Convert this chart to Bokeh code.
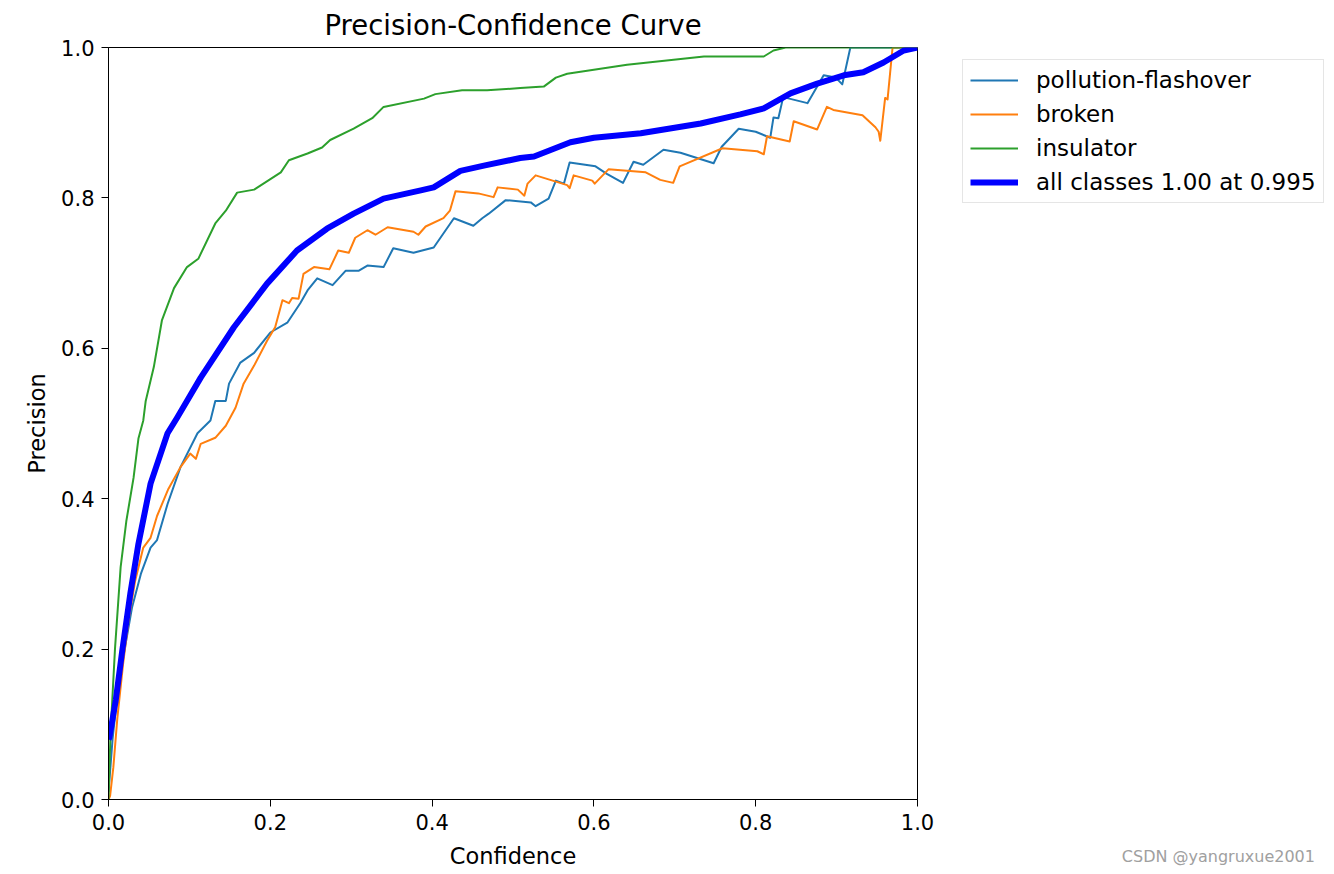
from bokeh.plotting import figure
from bokeh.layouts import row
from bokeh.models import Range1d, FixedTicker, PrintfTickFormatter, Legend, LegendItem
from bokeh.embed import file_html
from bokeh.resources import INLINE

# ---- data ----
pf_conf = [0.0, 0.005, 0.012, 0.02, 0.029, 0.04, 0.052, 0.06, 0.073, 0.089, 0.11, 0.126, 0.132, 0.145,
           0.149, 0.163, 0.18, 0.2, 0.221, 0.237, 0.246, 0.258, 0.277, 0.293, 0.309, 0.32, 0.34, 0.352,
           0.377, 0.402, 0.427, 0.451, 0.462, 0.47, 0.491, 0.522, 0.528, 0.544, 0.553, 0.563, 0.57,
           0.602, 0.616, 0.636, 0.649, 0.661, 0.686, 0.707, 0.748, 0.758, 0.779, 0.8, 0.818, 0.822,
           0.828, 0.834, 0.864, 0.884, 0.899, 0.907, 0.917, 1.0]
pf_prec = [0.01, 0.08, 0.15, 0.2, 0.255, 0.3, 0.335, 0.345, 0.393, 0.442, 0.487, 0.504, 0.53, 0.53,
           0.553, 0.581, 0.594, 0.621, 0.634, 0.66, 0.677, 0.693, 0.684, 0.703, 0.703, 0.71, 0.708, 0.733,
           0.727, 0.734, 0.773, 0.763, 0.773, 0.779, 0.797, 0.794, 0.789, 0.799, 0.823, 0.819, 0.847,
           0.842, 0.832, 0.82, 0.848, 0.844, 0.864, 0.86, 0.846, 0.868, 0.892, 0.888, 0.88, 0.907,
           0.906, 0.934, 0.926, 0.963, 0.96, 0.951, 1.0, 1.0]

br_conf = [0.0, 0.002, 0.006, 0.011, 0.018, 0.025, 0.033, 0.043, 0.052, 0.06, 0.074, 0.089, 0.101,
           0.108, 0.114, 0.132, 0.145, 0.157, 0.167, 0.18, 0.196, 0.206, 0.215, 0.223, 0.227, 0.235,
           0.241, 0.254, 0.273, 0.284, 0.297, 0.305, 0.32, 0.33, 0.345, 0.377, 0.383, 0.392, 0.414,
           0.422, 0.429, 0.457, 0.476, 0.481, 0.506, 0.514, 0.518, 0.528, 0.567, 0.57, 0.575, 0.598,
           0.601, 0.618, 0.664, 0.682, 0.698, 0.706, 0.759, 0.802, 0.81, 0.814, 0.842, 0.847, 0.876,
           0.888, 0.896, 0.932, 0.942, 0.948, 0.952, 0.954, 0.96, 0.963, 0.969, 0.97, 1.0]
br_prec = [0.0, 0.005, 0.043, 0.109, 0.18, 0.24, 0.291, 0.335, 0.348, 0.377, 0.413, 0.442, 0.46,
           0.453, 0.473, 0.481, 0.497, 0.521, 0.553, 0.577, 0.61, 0.628, 0.664, 0.66, 0.667, 0.666,
           0.699, 0.708, 0.705, 0.73, 0.727, 0.747, 0.757, 0.751, 0.761, 0.755, 0.751, 0.762, 0.773,
           0.783, 0.809, 0.806, 0.801, 0.814, 0.811, 0.803, 0.819, 0.83, 0.817, 0.813, 0.83, 0.823,
           0.819, 0.838, 0.834, 0.824, 0.82, 0.842, 0.866, 0.862, 0.858, 0.882, 0.875, 0.902, 0.891,
           0.921, 0.917, 0.91, 0.9, 0.894, 0.888, 0.876, 0.933, 0.931, 0.998, 1.0, 1.0]

ins_conf = [0.0, 0.0025, 0.008, 0.015, 0.022, 0.031, 0.037, 0.043, 0.046, 0.056, 0.066, 0.081, 0.097,
            0.111, 0.132, 0.145, 0.159, 0.18, 0.213, 0.223, 0.246, 0.264, 0.274, 0.303, 0.326, 0.34,
            0.39, 0.404, 0.437, 0.468, 0.509, 0.538, 0.553, 0.567, 0.641, 0.736, 0.81, 0.822, 0.837, 1.0]
ins_prec = [0.0, 0.088, 0.2, 0.309, 0.37, 0.428, 0.48, 0.504, 0.53, 0.575, 0.637, 0.68, 0.708,
            0.719, 0.766, 0.783, 0.807, 0.811, 0.834, 0.85, 0.859, 0.867, 0.877, 0.892, 0.906, 0.921,
            0.932, 0.938, 0.943, 0.943, 0.946, 0.948, 0.96, 0.965, 0.977, 0.988, 0.988, 0.996, 1.0, 1.0]

all_conf = [0.0, 0.001, 0.009, 0.017, 0.027, 0.037, 0.052, 0.073, 0.085, 0.097, 0.114, 0.155, 0.196,
            0.233, 0.27, 0.303, 0.34, 0.386, 0.402, 0.435, 0.464, 0.509, 0.526, 0.571, 0.6, 0.658,
            0.732, 0.781, 0.81, 0.843, 0.876, 0.909, 0.933, 0.958, 0.983, 1.0]
all_prec = [0.08, 0.082, 0.132, 0.198, 0.274, 0.34, 0.42, 0.487, 0.508, 0.53, 0.561, 0.628, 0.686,
            0.73, 0.759, 0.779, 0.799, 0.81, 0.814, 0.836, 0.843, 0.853, 0.855, 0.874, 0.88, 0.886,
            0.899, 0.911, 0.919, 0.939, 0.952, 0.963, 0.967, 0.98, 0.996, 1.0]

labels = ["pollution-flashover", "broken", "insulator", "all classes 1.00 at 0.995"]
colors = ["#1f77b4", "#ff7f0e", "#2ca02c", "#0000ff"]
widths = [2, 2, 2, 6]
ticks = [0.0, 0.2, 0.4, 0.6, 0.8, 1.0]
title_text = "Precision-Confidence Curve"
xlabel = "Confidence"
ylabel = "Precision"
watermark = "CSDN @yangruxue2001"

FONT = "DejaVu Sans"
NAN = float("nan")

# ---------------- main chart ----------------
p = figure(frame_width=809, frame_height=752,
           min_border_left=108, min_border_right=30, min_border_top=47, min_border_bottom=75,
           x_range=Range1d(0, 1), y_range=Range1d(0, 1),
           output_backend="svg", toolbar_location=None, title=title_text)

p.title.align = "center"
p.title.text_font = FONT
p.title.text_font_size = "27.5px"
p.title.text_font_style = "normal"
p.title.text_color = "black"
p.title.standoff = 13

p.xgrid.visible = False
p.ygrid.visible = False
p.outline_line_color = "black"
p.outline_line_width = 1
p.outline_line_alpha = 1.0
p.background_fill_color = "white"
p.border_fill_color = "white"

for ax in (p.xaxis[0], p.yaxis[0]):
    ax.ticker = FixedTicker(ticks=ticks)
    ax.formatter = PrintfTickFormatter(format="%.1f")
    ax.major_tick_out = 7
    ax.major_tick_in = 0
    ax.minor_tick_out = 0
    ax.minor_tick_in = 0
    ax.major_tick_line_color = "black"
    ax.axis_line_color = "black"
    ax.major_label_text_font = FONT
    ax.major_label_text_font_size = "21px"
    ax.major_label_text_color = "black"
    ax.major_label_standoff = 7
    ax.axis_label_text_font = FONT
    ax.axis_label_text_font_size = "22.5px"
    ax.axis_label_text_font_style = "normal"
    ax.axis_label_text_color = "black"

p.xaxis.axis_label = xlabel
p.yaxis.axis_label = ylabel
p.xaxis.axis_label_standoff = 10
p.yaxis.axis_label_standoff = 8

series = [(pf_conf, pf_prec), (br_conf, br_prec), (ins_conf, ins_prec), (all_conf, all_prec)]
for (cx, cy), c, w in zip(series, colors, widths):
    p.line(cx, cy, line_color=c, line_width=w, line_join="round")

# ---------------- side panel: legend + watermark ----------------
side = figure(width=387, height=874, min_border=0,
              x_range=Range1d(0, 1), y_range=Range1d(0, 1),
              output_backend="svg", toolbar_location=None)
side.yaxis.visible = False
side.xgrid.visible = False
side.ygrid.visible = False
side.outline_line_color = None
side.background_fill_color = "white"
side.border_fill_color = "white"

# watermark drawn as the single tick label of the side panel's bottom axis
wx = side.xaxis[0]
wx.ticker = FixedTicker(ticks=[0.7])
wx.major_label_overrides = {0.7: watermark}
wx.axis_line_color = None
wx.major_tick_line_color = None
wx.major_tick_out = 0
wx.major_tick_in = 0
wx.minor_tick_out = 0
wx.minor_tick_in = 0
wx.minor_tick_line_color = None
wx.major_label_standoff = 47
wx.major_label_text_font = FONT
wx.major_label_text_font_size = "16px"
wx.major_label_text_color = "#a0a0a0"

proxies = []
for c, w in zip(colors, widths):
    proxies.append(side.line([NAN, NAN], [NAN, NAN], line_color=c, line_width=w))

legend = Legend(items=[LegendItem(label=lab, renderers=[r]) for lab, r in zip(labels, proxies)],
                location=(15, 596), margin=0, padding=7, spacing=8,
                glyph_width=48, glyph_height=22, label_height=22, label_standoff=18,
                label_text_font=FONT, label_text_font_size="23px", label_text_color="black",
                border_line_color="#cccccc", border_line_width=1,
                background_fill_color="white", background_fill_alpha=1.0)
side.add_layout(legend)

layout = row(p, side, spacing=0)
open("out.html", "w").write(file_html(layout, INLINE))
